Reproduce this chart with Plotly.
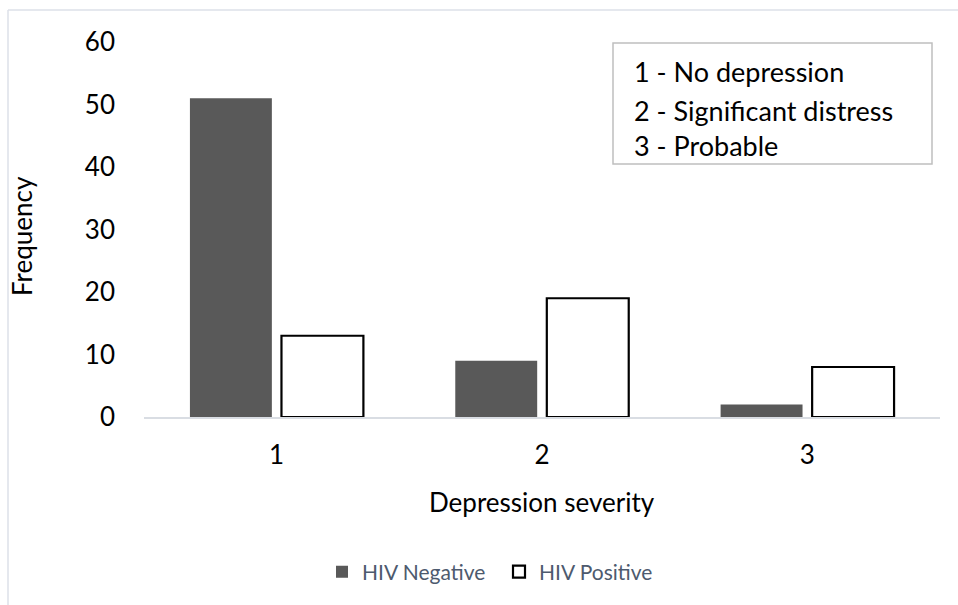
import plotly.graph_objects as go

# Depression severity categories and frequency per HIV status
categories = ["1", "2", "3"]
hiv_negative = [51, 9, 2]
hiv_positive = [13, 19, 8]
y_ticks = [0, 10, 20, 30, 40, 50, 60]
severity_key = ["1 - No depression", "2 - Significant distress", "3 - Probable"]

FONT = "Lato, 'Open Sans', sans-serif"
W, H = 958, 605
M_L, M_R, M_T, M_B = 144, 18, 42, 188

fig = go.Figure()
fig.add_trace(go.Bar(
    x=categories, y=hiv_negative, name="HIV Negative",
    marker=dict(color="#595959", line=dict(width=0)),
))
fig.add_trace(go.Bar(
    x=categories, y=hiv_positive, name="HIV Positive",
    marker=dict(color="#ffffff", line=dict(color="#000000", width=2.2)),
))

def px_x(p):
    return (p - M_L) / (W - M_L - M_R)

def px_y(p):
    return (H - M_B - p) / (H - M_T - M_B)

fig.update_layout(
    width=W, height=H,
    margin=dict(l=M_L, r=M_R, t=M_T, b=M_B),
    paper_bgcolor="white", plot_bgcolor="white",
    barmode="group", bargap=0.31, bargroupgap=0.105,
    font=dict(family=FONT, color="#000000", size=26),
    xaxis=dict(
        type="category", showgrid=False, zeroline=False,
        showline=True, linecolor="#d9dde3", linewidth=2,
        ticks="", ticklabelstandoff=14,
        tickfont=dict(size=26, color="#000000"),
    ),
    yaxis=dict(
        range=[0, 60], tickvals=y_ticks, showgrid=False, zeroline=False,
        showline=False, ticks="", ticklabelstandoff=28,
        tickfont=dict(size=26, color="#000000"),
    ),
    legend=dict(
        orientation="h", x=px_x(322), xanchor="left", y=px_y(572), yanchor="middle",
        font=dict(size=21, color="#4d5a6e"), itemwidth=30, entrywidth=132,
        bgcolor="rgba(0,0,0,0)", traceorder="normal",
    ),
    showlegend=True,
)

# Axis titles
fig.add_annotation(
    xref="paper", yref="paper", x=0.5, y=px_y(502), xanchor="center", yanchor="middle",
    text="Depression severity", showarrow=False, font=dict(size=26, color="#000000"),
)
fig.add_annotation(
    xref="paper", yref="paper", x=px_x(22), y=px_y(236), xanchor="center", yanchor="middle",
    text="Frequency", textangle=-90, showarrow=False, font=dict(size=26, color="#000000"),
)

# Severity key box
fig.add_shape(type="rect", xref="paper", yref="paper",
              x0=px_x(613), x1=px_x(932), y0=px_y(43), y1=px_y(164),
              line=dict(color="#bfbfbf", width=1.5), fillcolor="white")
for line_text, y_px in zip(severity_key, [72, 110, 145]):
    fig.add_annotation(
        xref="paper", yref="paper", x=px_x(632), y=px_y(y_px),
        xanchor="left", yanchor="middle", align="left", showarrow=False,
        text=line_text, font=dict(size=27, color="#000000"),
    )

# Thin outer frame along the top and left edges
frame = "#dde1e8"
fig.add_shape(type="line", xref="paper", yref="paper",
              x0=px_x(8), x1=px_x(W + 5), y0=px_y(10), y1=px_y(10),
              line=dict(color=frame, width=1.5))
fig.add_shape(type="line", xref="paper", yref="paper",
              x0=px_x(8), x1=px_x(8), y0=px_y(10), y1=px_y(H + 5),
              line=dict(color=frame, width=1.5))

fig.write_html("out.html")
